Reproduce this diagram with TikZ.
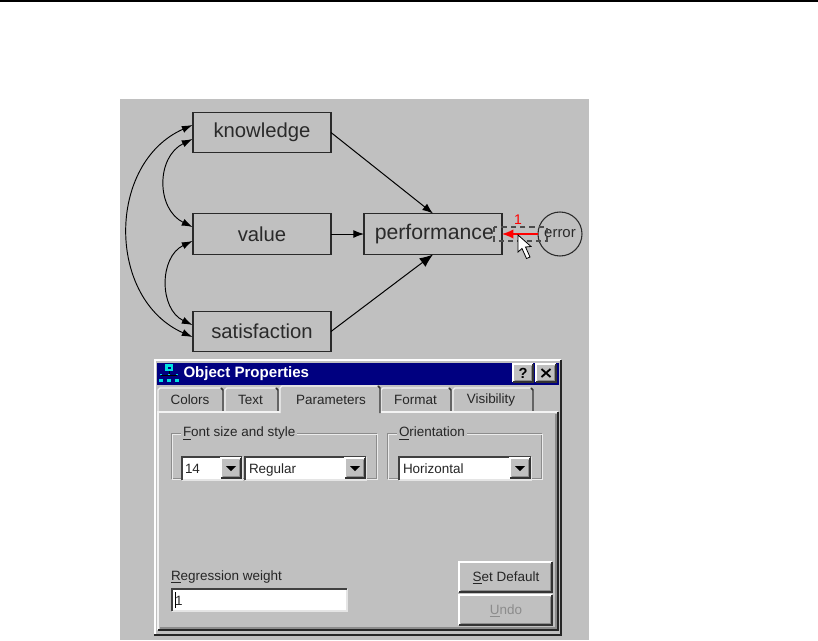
\documentclass[tikz,border=0pt]{standalone}
\usepackage{fontspec}
\setmainfont{Liberation Sans}
\usetikzlibrary{arrows.meta}
\definecolor{panel}{HTML}{C0C0C0}
\definecolor{navy}{HTML}{000080}
\definecolor{ink}{HTML}{2A2A2A}
\definecolor{etch}{HTML}{8C8C8C}
\definecolor{teal}{HTML}{00E0E0}
\tikzset{
  x=0.75pt,y=-0.75pt,
  every node/.style={inner sep=0pt,outer sep=0pt},
  var/.style={draw=ink,line width=1pt,minimum width=103.5pt,minimum height=30.4pt,font=\fontsize{15.2}{18}\selectfont,text=ink},
  errnode/.style={circle,draw=ink,line width=0.8pt,minimum size=33pt,font=\fontsize{11.2}{13}\selectfont,text=ink},
  path/.style={draw=black,line width=0.75pt,-{Latex[length=8pt,width=6pt]}},
  cov/.style={draw=black,line width=0.7pt,{Latex[length=8pt,width=5.5pt]}-{Latex[length=8pt,width=5.5pt]}},
  ui/.style={font=\fontsize{10.1}{12}\selectfont,text=black!85},
  disabled/.style={font=\fontsize{10.1}{12}\selectfont,text=etch},
  title/.style={font=\bfseries\fontsize{11.3}{13}\selectfont,text=white},
}
% raised bevel: x0 y0 x1 y1
\newcommand{\raisedbevel}[4]{%
  \fill[panel] (#1,#2) rectangle (#3,#4);
  \draw[white,line width=1pt] (#1,#4) -- (#1,#2) -- (#3,#2);
  \draw[black!80,line width=1.1pt] (#1,#4) -- (#3,#4) -- (#3,#2);
  \draw[etch,line width=0.8pt] (#1+1.5,#4-1.5) -- (#3-1.5,#4-1.5) -- (#3-1.5,#2+1.5);
}
% sunken white field: x0 y0 x1 y1
\newcommand{\sunkenfield}[4]{%
  \fill[white] (#1,#2) rectangle (#3,#4);
  \draw[white!90!black,line width=1pt] (#1,#4) -- (#3,#4) -- (#3,#2);
  \draw[black!75,line width=1.5pt] (#1,#4) -- (#1,#2) -- (#3,#2);
}
% drop-down button: x0 y0 x1 y1
\newcommand{\dropbtn}[4]{%
  \raisedbevel{#1}{#2}{#3}{#4}
  \fill[black] ({(#1+#3)/2-5},{(#2+#4)/2-2}) -- ({(#1+#3)/2+5},{(#2+#4)/2-2}) -- ({(#1+#3)/2},{(#2+#4)/2+3}) -- cycle;
}
% etched group frame: x0 y0 x1 y1
\newcommand{\etchframe}[4]{%
  \draw[etch,line width=0.7pt] (#1,#2) rectangle (#3,#4);
  \draw[white!70!panel,line width=0.7pt] (#1+1,#2+1) rectangle (#3+1,#4+1);
}
% tab: x0 ytop x1 ybottom
\newcommand{\dlgtab}[4]{%
  \fill[panel] (#1,#4) -- (#1,#2+2) -- (#1+2,#2) -- (#3-2,#2) -- (#3,#2+2) -- (#3,#4) -- cycle;
  \draw[white!80!panel,line width=1pt] (#1,#4) -- (#1,#2+2) -- (#1+2,#2) -- (#3-3,#2);
  \draw[black!80,line width=1.1pt] (#3-2,#2) -- (#3,#2+2) -- (#3,#4);
}
\begin{document}
\begin{tikzpicture}
\useasboundingbox (0,0) rectangle (818,640);
\fill[white] (0,0) rectangle (818,640);
\draw[black,line width=0.9pt] (0,1) -- (818,1);
\fill[panel] (120,99) rectangle (589,640);

% --- path diagram
\node[var] (k) at (262,132.5) {knowledge};
\node[var] (v) at (262,234) {value};
\node[var] (s) at (262,331.5) {satisfaction};
\node[var,font=\fontsize{15.9}{18}\selectfont] (p) at (433,234) {\hspace{2pt}performance};
\node[errnode] (e) at (560,234) {error};

\coordinate (ptop) at (433,213.5);
\coordinate (pbot) at (433,254.5);
\coordinate (k1) at (192.5,125);
\coordinate (k2) at (192.5,139);
\coordinate (v1) at (192.5,227);
\coordinate (v2) at (192.5,241);
\coordinate (s1) at (192.5,325);
\coordinate (s2) at (192.5,337);

\draw[path] (k.east) -- (ptop);
\draw[path] (v.east) -- (p.west);
\draw[path,-{Latex[length=10pt,width=8pt]}] (s.east) -- (pbot);
\draw[cov] (k1) .. controls (106.5,163) and (106.5,299) .. (s2);
\draw[cov] (k2) .. controls (156,157) and (156,209) .. (v1);
\draw[cov] (v2) .. controls (159,257) and (159,309) .. (s1);

\coordinate (dnw) at (494,227);
\coordinate (dse) at (547,241);
\draw[draw=black!70,line width=0.9pt,dash pattern=on 4pt off 3pt] (dnw) rectangle (dse);
\draw[red,line width=1pt,-{Latex[length=8.5pt,width=7pt]}] (e.west) -- (p.east);
\node[text=red,font=\fontsize{10.5}{12}\selectfont] (w) at (518,220) {1};
\fill[white,draw=black,line width=0.6pt] (518,235) -- (518,252) -- (522,248.5) -- (526.5,258.5) -- (530,257) -- (525.5,247) -- (531,246.5) -- cycle;

% --- dialog window
\fill[panel] (155,360) rectangle (561,635);
\draw[white,line width=1pt] (155,635) -- (155,360) -- (561,360);
\draw[black!85,line width=1.4pt] (154,635) -- (561,635) -- (561,360);
\fill[navy] (157,363) rectangle (559,385);
\node[title,anchor=west] (ttl) at (183.5,373.5) {Object Properties};
% title icon
\fill[teal] (165,364) rectangle (173,371);
\fill[navy] (167.5,366.5) rectangle (170.5,369);
\draw[black,line width=0.5pt] (169,371) -- (169,375) (161,375) -- (177,375);
\foreach \xx in {159,167,175}{\fill[teal] (\xx,379) rectangle (\xx+4,382);\fill[teal] (\xx+1,373.5) rectangle (\xx+3,375);}
% title buttons
\raisedbevel{513}{364}{533}{382}
\raisedbevel{536}{364}{556}{382}
\node[font=\bfseries\fontsize{11}{13}\selectfont] (help) at (523,373) {?};
\coordinate (xa) at (541.5,369);
\coordinate (xb) at (550.5,377);
\coordinate (xc) at (541.5,377);
\coordinate (xd) at (550.5,369);
\draw[black,line width=1.4pt] (xa) -- (xb) (xc) -- (xd);

% tabs (back ones, then panel, then active)
\dlgtab{158}{388}{223}{412}
\dlgtab{225}{388}{278}{412}
\dlgtab{381}{388}{451}{412}
\dlgtab{453}{388}{533}{412}
\fill[panel] (158,412) rectangle (558,630);
\draw[white!80!panel,line width=1pt] (158,630) -- (158,412) -- (558,412);
\draw[black!85,line width=1.3pt] (158,630) -- (558,630) -- (558,412);
\draw[etch,line width=0.8pt] (160,628) -- (556,628) -- (556,414);
\dlgtab{280}{386}{380}{413}
\fill[panel] (281,411) rectangle (379,414);
\node[ui] (tc) at (190,400) {Colors};
\node[ui] (tt) at (250.5,400) {Text};
\node[ui] (tp) at (331,399.5) {Parameters};
\node[ui] (tf) at (415.5,400) {Format};
\node[ui] (tv) at (491,400) {Visibility};

% groups
\etchframe{171}{433}{376}{478}
\etchframe{387}{433}{541}{478}
\node[ui,fill=panel,inner xsep=1.5pt,anchor=west] (gf) at (181,433.5) {\underline{F}ont size and style};
\node[ui,fill=panel,inner xsep=1.5pt,anchor=west] (go) at (397,433.5) {\underline{O}rientation};

% combos
\sunkenfield{182}{457}{242}{480}
\dropbtn{221}{458}{241}{478}
\node[ui,anchor=base west] (c1) at (185,473) {14};
\sunkenfield{245}{457}{366}{480}
\dropbtn{345}{458}{365}{478}
\node[ui,anchor=base west] (c2) at (249,473) {Regular};
\sunkenfield{399}{457}{531}{480}
\dropbtn{510}{458}{530}{478}
\node[ui,anchor=base west] (c3) at (403,473) {Horizontal};

% regression weight
\node[ui,anchor=west] (rl) at (171,577) {\underline{R}egression weight};
\sunkenfield{172}{589}{347}{611}
\node[ui,anchor=west] (rv) at (175,600.5) {1};
\coordinate (cra) at (175,592);
\coordinate (crb) at (175,608);
\draw[black,line width=0.6pt] (cra) -- (crb);

% buttons
\raisedbevel{459}{562}{552}{592}
\raisedbevel{459}{595}{552}{625}
\node[ui] (bs) at (506,578) {\underline{S}et Default};
\node[disabled] (bu) at (506,611) {\underline{U}ndo};
\end{tikzpicture}
\end{document}
